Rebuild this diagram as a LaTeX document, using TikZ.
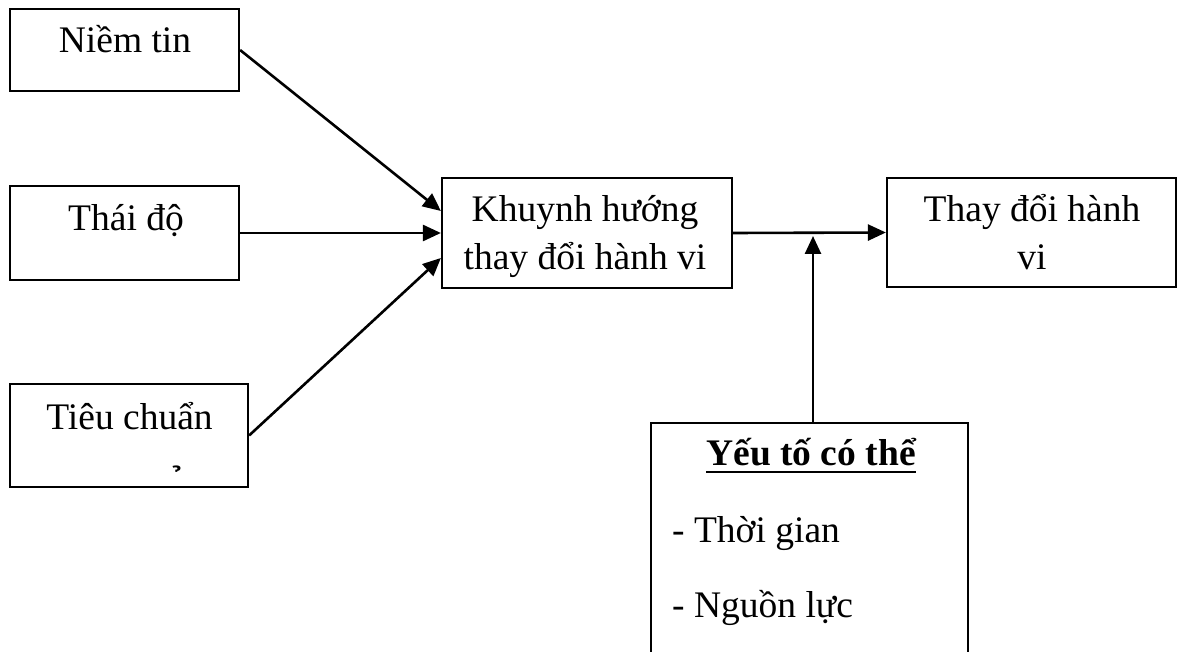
\documentclass[tikz,border=0pt]{standalone}
\usepackage{fontspec}
\setmainfont{Liberation Serif}
\usetikzlibrary{arrows.meta,calc}
\begin{document}
\begin{tikzpicture}[x=1pt,y=-1pt,
  box/.style={draw,line width=2.2pt,inner sep=0pt},
  txt/.style={font=\fontsize{37.5pt}{48pt}\selectfont,inner sep=0pt,anchor=base},
  arr/.style={line width=2.6pt,-{Triangle[length=18pt,width=16pt]}}]
\useasboundingbox (0,0) rectangle (1179,652);
% boxes
\node[box,minimum width=229pt,minimum height=82pt]  (nt) at (124.5,50)  {};
\node[box,minimum width=229pt,minimum height=94pt]  (ta) at (124.5,233) {};
\node[box,minimum width=238pt,minimum height=103pt] (tc) at (129,435.5) {};
\node[box,minimum width=290pt,minimum height=110pt] (kh) at (587,233)   {};
\node[box,minimum width=289pt,minimum height=109pt] (td) at (1031.5,232.5) {};
\node[box,minimum width=317pt,minimum height=354pt] (yt) at (809.5,600) {};
% texts
\node[txt] (ntt) at (125,53)  {Niềm tin};
\node[txt] (tat) at (126,231) {Thái độ};
\node[txt] (tct) at (129.5,430) {Tiêu chuẩn};
\node[txt] (tch) at (177,500) {\char"00A0\char"0309};
\node[txt] (kh1) at (585,222) {Khuynh hướng};
\node[txt] (kh2) at (585,270) {thay đổi hành vi};
\node[txt] (td1) at (1032,222) {Thay đổi hành};
\node[txt] (td2) at (1032,270) {vi};
\node[txt] (yt1) at (811,465) {\bfseries Yếu tố có thể};
\draw[line width=2.8pt] ($(yt1.base west)+(0,7)$) -- ($(yt1.base east)+(0,7)$);
\node[txt,anchor=base west] (yt2) at (672,542) {- Thời gian};
\node[txt,anchor=base west] (yt3) at (672,617) {- Nguồn lực};
% connectors
\draw[arr] (nt.east) -- ($(kh.west)+(0,-22)$);
\draw[arr] (ta.east) -- (kh.west);
\draw[arr] (tc.east) -- ($(kh.west)+(0,25)$);
\draw[arr] (kh.east) -- (td.west);
\coordinate (jn) at (813,236);
\draw[arr] (yt.north -| jn) -- (jn);
\end{tikzpicture}
\end{document}
